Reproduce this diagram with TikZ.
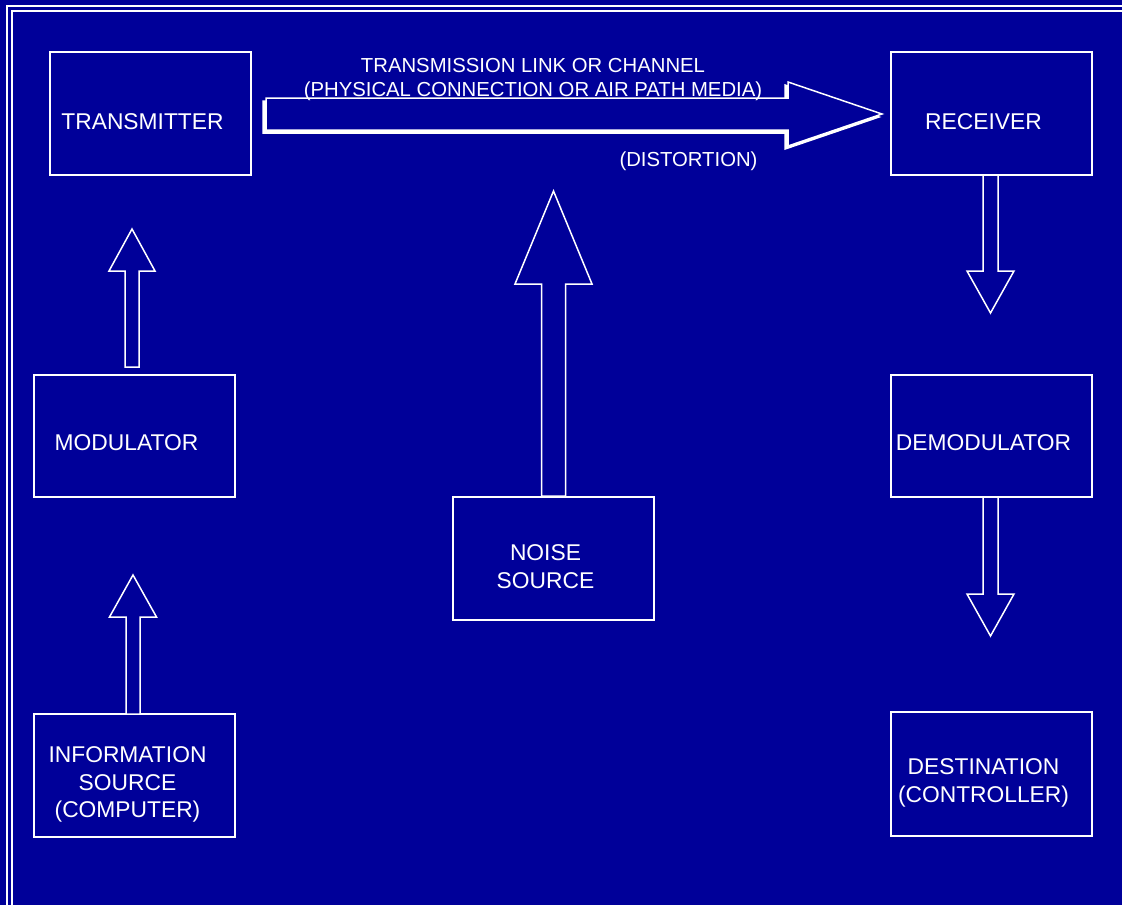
\documentclass[tikz,border=0pt]{standalone}
\usepackage{fontspec}
\setmainfont{Liberation Sans}
\usetikzlibrary{calc,positioning}
\definecolor{slidebg}{RGB}{0,0,153}
\tikzset{
    block/.style={draw=white, line width=2pt, fill=slidebg, rectangle, inner sep=0pt,
        minimum width=201pt, minimum height=123pt},
    blocktext/.style={text=white, align=center, inner sep=0pt,
        font=\fontsize{22.8}{27.5}\selectfont},
    linktext/.style={text=white, inner sep=0pt, anchor=base,
        font=\fontsize{20.3}{24}\selectfont},
    frame/.style={draw=white, line width=1.6pt},
    fatline/.style={draw=white, line width=1.5pt, fill=slidebg, line join=miter},
    upblock/.style args={#1 #2 #3}{fatline,
        to path={let \p1=(\tikztostart), \p2=(\tikztotarget) in
            (\x1-#1,\y1) -- (\x1-#1,\y2-#3) -- (\x1-#2,\y2-#3) -- (\x2,\y2)
            -- (\x1+#2,\y2-#3) -- (\x1+#1,\y2-#3) -- (\x1+#1,\y1) -- cycle}
    },
    downblock/.style args={#1 #2 #3}{fatline,
        to path={let \p1=(\tikztostart), \p2=(\tikztotarget) in
            (\x1-#1,\y1) -- (\x1-#1,\y2+#3) -- (\x1-#2,\y2+#3) -- (\x2,\y2)
            -- (\x1+#2,\y2+#3) -- (\x1+#1,\y2+#3) -- (\x1+#1,\y1) -- cycle}
    },
    rightblock/.style args={#1 #2 #3}{fatline,
        to path={let \p1=(\tikztostart), \p2=(\tikztotarget) in
            (\x1,\y1+#1) -- (\x2-#3,\y1+#1) -- (\x2-#3,\y1+#2) -- (\x2,\y2)
            -- (\x2-#3,\y1-#2) -- (\x2-#3,\y1-#1) -- (\x1,\y1-#1) -- cycle}
    }
}

\begin{document}
\begin{tikzpicture}[x=1pt, y=-1pt]
    \fill[slidebg] (0,0) rectangle (1122,905);
    \useasboundingbox (0,0) rectangle (1122,905);
    % double frame, only top and left edges are inside the page
    \draw[frame] (7,6) rectangle (1140,930);
    \draw[frame] (12,11) rectangle (1135,925);

    % blocks
    \node[block, label={[blocktext, xshift=-8pt, yshift=-8pt]center:TRANSMITTER}] (trans) at (150.5,113.5) {};
    \node[block, label={[blocktext, xshift=-8pt, yshift=-8pt]center:RECEIVER}] (recv) at (991.5,113.5) {};
    \node[block, minimum height=122pt, label={[blocktext, xshift=-8pt, yshift=-7pt]center:MODULATOR}] (mod) at (134.5,436) {};
    \node[block, minimum height=122pt, label={[blocktext, xshift=-8pt, yshift=-7pt]center:DEMODULATOR}] (demod) at (991.5,436) {};
    \node[block, label={[blocktext, xshift=-8pt, yshift=-8pt]center:{NOISE\\SOURCE}}] (noise) at (553.5,558.5) {};
    \node[block, label={[blocktext, xshift=-7pt, yshift=-9pt]center:{INFORMATION\\SOURCE\\(COMPUTER)}}] (info) at (134.5,775.5) {};
    \node[block, minimum height=124pt, label={[blocktext, xshift=-8pt, yshift=-9pt]center:{DESTINATION\\(CONTROLLER)}}] (dest) at (991.5,774) {};

    % arrow ends
    \coordinate (modtail) at (132,367);
    \coordinate (transtip) at (132,229);
    \coordinate (infotail) at (133,714);
    \coordinate (modtip) at (133,575);
    \coordinate (noisetip) at (553.5,191);
    \coordinate (recvtail) at (990.5,175);
    \coordinate (demodtip) at (990.5,313);
    \coordinate (demodtail) at (990.5,497);
    \coordinate (desttip) at (990.5,636);
    \coordinate (linktail) at (266,114);
    \coordinate (linktip) at (882,114);

    % channel arrow with its shadow
    \begin{scope}[transform canvas={xshift=-3pt, yshift=-3pt}]
    \draw[rightblock=16pt 32pt 94pt, fill=white] (linktail) to (linktip);
    \end{scope}
    \draw[rightblock=16pt 32pt 94pt] (linktail) to (linktip);

    \draw[upblock=7pt 23pt 42pt] (modtail) to (transtip);
    \draw[upblock=7pt 23.5pt 42pt] (infotail) to (modtip);
    \draw[upblock=12pt 38.5pt 93pt] (noise.north) to (noisetip);
    \draw[downblock=7.5pt 23.5pt 42pt] (recvtail) to (demodtip);
    \draw[downblock=7.5pt 23.5pt 42pt] (demodtail) to (desttip);

    % channel texts
    \node[linktext] (linkname) at (533,72.5) {TRANSMISSION LINK OR CHANNEL};
    \node[linktext] (linkmedia) at (533,96.5) {(PHYSICAL CONNECTION OR AIR PATH MEDIA)};
    \node[linktext] (distort) at (688.5,166) {(DISTORTION)};
\end{tikzpicture}
\end{document}
